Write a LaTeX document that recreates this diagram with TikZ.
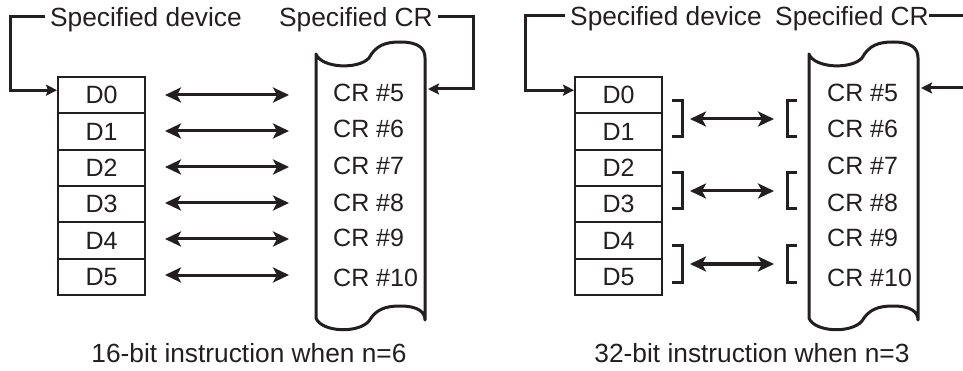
\documentclass[tikz,border=0pt]{standalone}
\usepackage{fontspec}
\setmainfont{Liberation Sans}
\usetikzlibrary{arrows.meta}
\definecolor{ink}{HTML}{231F20}
\begin{document}
\begin{tikzpicture}[x=1pt,y=-1pt,
  txt/.style={font=\fontsize{25}{30}\selectfont, text=ink, inner sep=0pt},
  lbl/.style={font=\fontsize{26.3}{30}\selectfont, text=ink, inner sep=0pt},
  cell/.style={draw=ink, line width=2pt, minimum width=87pt, minimum height=36.33pt,
    inner sep=0pt, anchor=north west, font=\fontsize{25}{30}\selectfont, text=ink},
  dbl/.style={draw=ink, line width=3pt,
    {Stealth[length=16pt,width=15pt,inset=4pt]}-{Stealth[length=16pt,width=15pt,inset=4pt]}},
  conn/.style={draw=ink, line width=3pt, -{Stealth[length=11pt,width=11pt,inset=2pt]}},
  scroll/.style={draw=ink, line width=3pt, line join=round},
  brk/.style={draw=ink, line width=3pt}
]
\useasboundingbox (0,0) rectangle (963,371);
\clip (0,0) rectangle (963,371);

% ================= LEFT: 16-bit =================
\node[lbl, anchor=base west] (sdA) at (50,27) {Specified device};
\node[lbl, anchor=base west] (scA) at (279,27) {Specified CR};

\foreach \i/\y in {0/76,1/112.33,2/148.67,3/185,4/221.33,5/257.67}{
  \node[cell] (dA\i) at (57,\y) {D\i};
}

% scroll
\draw[scroll] (316,54) .. controls (321,68) and (358,70) .. (369,58)
  .. controls (376,45) and (386,42) .. (400,42)
  .. controls (418,42) and (425,48) .. (425,58) -- (425,320)
  .. controls (425,312) and (418,306) .. (400,306)
  .. controls (386,306) and (376,309) .. (369,321)
  .. controls (358,334) and (321,332) .. (316,318) -- cycle;

\foreach \n/\y in {5/102,6/138,7/175,8/212,9/247,10/286}{
  \node[txt, anchor=base west] (crA\n) at (333,\y) {CR \#\n};
}

% arrows
\foreach \i/\y in {0/95,1/131,2/167,3/203,4/239,5/275}{
  \coordinate (aAl\i) at (165,\y);
  \coordinate (aAr\i) at (289,\y);
  \draw[dbl] (aAl\i) -- (aAr\i);
}

% connectors
\coordinate (kA1) at (45,17);
\coordinate (kA2) at (438,17);
\coordinate (sRA) at (428,89);
\draw[conn] (kA1) -- (10,17) |- ([yshift=5pt]dA0.west);
\draw[conn] (kA2) -- (473,17) |- (sRA);

\node[lbl, anchor=base] (capA) at (249,362) {16-bit instruction when n=6};

% ================= RIGHT: 32-bit =================
\node[lbl, anchor=base west] (sdB) at (570,26) {Specified device};
\node[lbl, anchor=base west] (scB) at (775,26) {Specified CR};

\foreach \i/\y in {0/76,1/112.33,2/148.67,3/185,4/221.33,5/257.67}{
  \node[cell] (dB\i) at (574,\y) {D\i};
}

\begin{scope}[shift={(493,0)}]
\draw[scroll] (316,54) .. controls (321,68) and (358,70) .. (369,58)
  .. controls (376,45) and (386,42) .. (400,42)
  .. controls (418,42) and (425,48) .. (425,58) -- (425,320)
  .. controls (425,312) and (418,306) .. (400,306)
  .. controls (386,306) and (376,309) .. (369,321)
  .. controls (358,334) and (321,332) .. (316,318) -- cycle;
\end{scope}

\foreach \n/\y in {5/102,6/138,7/175,8/212,9/247,10/286}{
  \node[txt, anchor=base west] (crB\n) at (827,\y) {CR \#\n};
}

% brackets and arrows
\foreach \k/\t/\m/\b in {1/101/119/137,2/173/191/209,3/246/264/282}{
  \draw[brk] (672,\t) -- (682,\t) -- (682,\b) -- (672,\b);
  \draw[brk] (797,\t) -- (787,\t) -- (787,\b) -- (797,\b);
  \coordinate (aBl\k) at (690,\m);
  \coordinate (aBr\k) at (774,\m);
  \draw[dbl] (aBl\k) -- (aBr\k);
}

\coordinate (kB1) at (565,16);
\coordinate (kB2) at (929,16);
\coordinate (sRB) at (921,88);
\draw[conn] (kB1) -- (525,16) |- ([yshift=5pt]dB0.west);
\draw[conn] (kB2) -- (980,16) |- (sRB);

\node[lbl, anchor=base] (capB) at (752,362) {32-bit instruction when n=3};
\end{tikzpicture}
\end{document}
